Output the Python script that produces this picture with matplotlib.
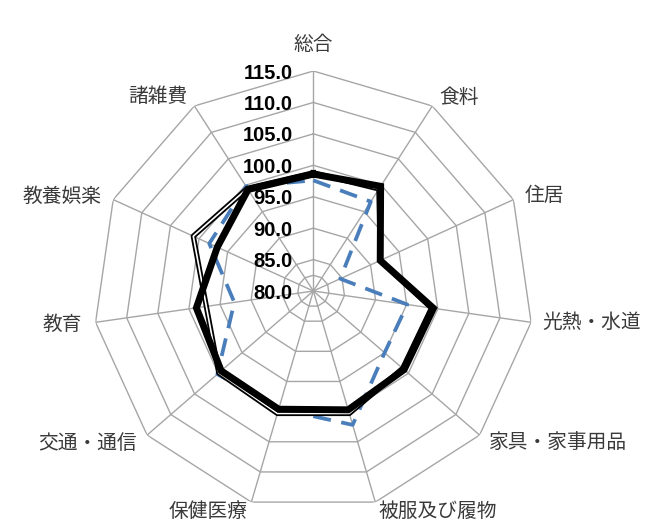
"""Radar chart of consumer price index by category."""

import numpy as np
import matplotlib

matplotlib.use("Agg")
import matplotlib.pyplot as plt

categories = ["総合", "食料", "住居", "光熱・水道", "家具・家事用品", "被服及び履物",
              "保健医療", "交通・通信", "教育", "教養娯楽", "諸雑費"]
series_thick = [98.6, 99.8, 91.7, 99.3, 99.1, 99.7, 99.6, 99.4, 98.8, 96.8, 99.2]
series_double = [98.8, 99.3, 91.7, 99.0, 98.8, 100.3, 100.3, 99.9, 97.2, 101.0, 99.4]
series_blue = [97.6, 96.9, 84.7, 95.1, 95.0, 102.2, 99.5, 100.2, 92.7, 98.2, 99.8]
ring_levels = [82.5, 85, 90, 95, 100, 105, 110, 115]
tick_levels = [80, 85, 90, 95, 100, 105, 110, 115]

# label offsets in points from each outer vertex, with alignment
label_layout = [
    ((0, 19), "center"), ((4.8, 6.3), "left"), ((7.9, 2.9), "left"),
    ((8.1, 0), "left"), ((6.5, -5), "left"), ((2.2, -6.5), "left"),
    ((-2.7, -6.5), "right"), ((-7.2, -5.8), "right"), ((-9.6, -1.7), "right"),
    ((-8.4, 2.4), "right"), ((-4.8, 7), "right"),
]

n = len(categories)
theta = np.arange(n) * 2 * np.pi / n
theta_c = np.append(theta, theta[0])


def closed(vals):
    return np.append(vals, vals[0])


fig = plt.figure(figsize=(6.45, 5.26), dpi=100)
ax = fig.add_axes([0.1447, 0.0285, 0.6822, 0.8365], projection="polar")
ax.set_theta_offset(np.pi / 2)
ax.set_theta_direction(-1)
ax.set_ylim(80, 115)
ax.grid(False)
ax.spines["polar"].set_visible(False)
ax.set_xticks([])
ax.set_yticks([])
ax.patch.set_alpha(0)

grid_c = "#a6a6a6"
for lvl in ring_levels:
    ax.plot(theta_c, [lvl] * (n + 1), color=grid_c, lw=1.0, zorder=1)
for t in theta:
    ax.plot([t, t], [80, 115], color=grid_c, lw=1.0, zorder=1)

ax.plot(theta_c, closed(series_blue), color="#4a7ebb", lw=2.7,
        linestyle=(0, (4.8, 2.8)), zorder=2)
ax.plot(theta_c, closed(series_double), color="black", lw=3.8, zorder=3)
ax.plot(theta_c, closed(series_double), color="white", lw=1.2, zorder=4)
ax.plot(theta_c, closed(series_thick), color="black", lw=5.0, zorder=5,
        solid_joinstyle="miter")

for lvl in tick_levels:
    ax.annotate(f"{lvl:.1f}", xy=(0, lvl), xytext=(-15, -1.5),
                textcoords="offset points", ha="right", va="center",
                fontsize=14.5, fontweight="bold", family="Liberation Sans",
                color="black", zorder=6)

for t, name, (off, ha) in zip(theta, categories, label_layout):
    ax.annotate(name, xy=(t, 115), xytext=off, textcoords="offset points",
                ha=ha, va="center", fontsize=14.2, color="#3a3a3a",
                family=["Noto Sans CJK JP", "DejaVu Sans"])

fig.savefig("out.png", dpi=100)
plt.close(fig)
